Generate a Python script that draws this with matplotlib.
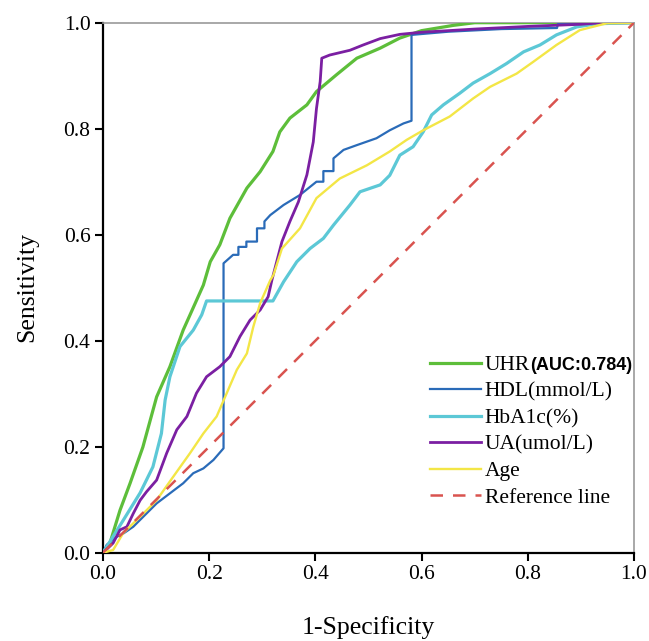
import matplotlib
matplotlib.use("Agg")
import matplotlib.pyplot as plt

# ---- data ----
uhr_x = [0, 0.013, 0.032, 0.051, 0.075, 0.101, 0.126, 0.151, 0.164, 0.189, 0.202, 0.220, 0.239, 0.271,
         0.296, 0.320, 0.333, 0.352, 0.384, 0.402, 0.440, 0.478, 0.522, 0.559, 0.60, 0.66, 0.70, 1.0]
uhr_y = [0, 0.018, 0.080, 0.131, 0.199, 0.294, 0.351, 0.420, 0.449, 0.505, 0.549, 0.581, 0.631, 0.688,
         0.719, 0.757, 0.794, 0.820, 0.845, 0.870, 0.902, 0.933, 0.952, 0.971, 0.985, 0.995, 1.0, 1.0]

hdl_x = [0, 0.007, 0.026, 0.038, 0.057, 0.076, 0.101, 0.126, 0.151, 0.170, 0.189, 0.208, 0.227, 0.227,
         0.245, 0.255, 0.255, 0.270, 0.270, 0.283, 0.290, 0.290, 0.304, 0.304, 0.315, 0.340, 0.371, 0.402,
         0.415, 0.415, 0.434, 0.434, 0.453, 0.478, 0.515, 0.540, 0.566, 0.581, 0.581, 0.65, 0.75, 0.855,
         0.857, 0.95, 1.0]
hdl_y = [0, 0.015, 0.030, 0.036, 0.049, 0.068, 0.093, 0.112, 0.131, 0.150, 0.159, 0.175, 0.197, 0.546,
         0.562, 0.562, 0.577, 0.577, 0.587, 0.587, 0.587, 0.612, 0.612, 0.625, 0.637, 0.656, 0.675, 0.700,
         0.700, 0.720, 0.720, 0.744, 0.760, 0.769, 0.782, 0.797, 0.810, 0.815, 0.977, 0.983, 0.988, 0.990,
         0.998, 1.0, 1.0]

hba_x = [0, 0.038, 0.070, 0.094, 0.110, 0.117, 0.126, 0.145, 0.170, 0.186, 0.195, 0.320, 0.340, 0.365,
         0.390, 0.415, 0.434, 0.465, 0.484, 0.522, 0.540, 0.559, 0.584, 0.603, 0.619, 0.641, 0.672, 0.697,
         0.729, 0.760, 0.792, 0.823, 0.854, 0.892, 0.930, 1.0]
hba_y = [0, 0.061, 0.113, 0.162, 0.225, 0.288, 0.332, 0.389, 0.420, 0.449, 0.475, 0.475, 0.511, 0.549,
         0.574, 0.593, 0.618, 0.656, 0.681, 0.694, 0.712, 0.750, 0.766, 0.794, 0.826, 0.845, 0.867, 0.886,
         0.904, 0.923, 0.945, 0.958, 0.977, 0.992, 0.998, 1.0]

ua_x = [0, 0.019, 0.032, 0.045, 0.057, 0.070, 0.082, 0.101, 0.120, 0.139, 0.158, 0.176, 0.195, 0.220,
        0.239, 0.258, 0.277, 0.296, 0.311, 0.318, 0.337, 0.352, 0.368, 0.384, 0.396, 0.402, 0.409, 0.412,
        0.427, 0.465, 0.490, 0.522, 0.559, 0.60, 0.70, 0.80, 0.90, 0.94, 1.0]
ua_y = [0, 0.018, 0.043, 0.049, 0.074, 0.099, 0.115, 0.137, 0.188, 0.232, 0.257, 0.301, 0.332, 0.351,
        0.370, 0.408, 0.439, 0.458, 0.483, 0.514, 0.587, 0.625, 0.662, 0.713, 0.775, 0.838, 0.889, 0.933,
        0.939, 0.948, 0.958, 0.970, 0.978, 0.982, 0.988, 0.993, 0.997, 1.0, 1.0]

age_x = [0, 0.019, 0.038, 0.070, 0.101, 0.132, 0.164, 0.189, 0.214, 0.233, 0.252, 0.271, 0.283, 0.296,
         0.315, 0.321, 0.337, 0.371, 0.402, 0.446, 0.497, 0.540, 0.572, 0.603, 0.653, 0.697, 0.729, 0.779,
         0.810, 0.854, 0.898, 0.949, 1.0]
age_y = [0, 0.005, 0.037, 0.068, 0.099, 0.143, 0.188, 0.225, 0.257, 0.301, 0.345, 0.376, 0.426, 0.471,
         0.514, 0.524, 0.574, 0.612, 0.669, 0.706, 0.731, 0.757, 0.779, 0.797, 0.823, 0.857, 0.879, 0.904,
         0.926, 0.958, 0.986, 0.999, 1.0]

ref_x = [0, 1]
ref_y = [0, 1]

labels = ["UHR", "HDL(mmol/L)", "HbA1c(%)", "UA(umol/L)", "Age", "Reference line"]
auc_text = "(AUC:0.784)"
ticks = [0.0, 0.2, 0.4, 0.6, 0.8, 1.0]
tick_labels = ["0.0", "0.2", "0.4", "0.6", "0.8", "1.0"]

# ---- figure ----
W, H = 649, 641
fig = plt.figure(figsize=(W / 100, H / 100), dpi=100)
ax = fig.add_axes([103 / W, 1 - 552.7 / H, (634 - 103) / W, (552.7 - 22.7) / H])

serif = "Liberation Serif"

ax.plot(uhr_x, uhr_y, color="#5DBE3A", lw=2.3, label=labels[0], zorder=3)
ax.plot(hdl_x, hdl_y, color="#2A6BB8", lw=1.6, label=labels[1], zorder=3)
ax.plot(hba_x, hba_y, color="#5CC8D6", lw=2.3, label=labels[2], zorder=3)
ax.plot(ua_x, ua_y, color="#7B1FA2", lw=2.0, label=labels[3], zorder=3)
ax.plot(age_x, age_y, color="#F3E646", lw=1.7, label=labels[4], zorder=3)
ax.plot(ref_x, ref_y, color="#D9534F", lw=1.8, dashes=(5, 4), label=labels[5], zorder=4)

ax.set_xlim(0, 1)
ax.set_ylim(0, 1)
ax.set_xticks(ticks)
ax.set_yticks(ticks)
ax.set_xticklabels(tick_labels, fontfamily=serif, fontsize=15.5)
ax.set_yticklabels(tick_labels, fontfamily=serif, fontsize=15.5)
ax.tick_params(axis="both", direction="out", length=6, width=1.5, color="black", pad=3)

for s in ["left", "bottom"]:
    ax.spines[s].set_color("black")
    ax.spines[s].set_linewidth(1.6)
for s in ["top", "right"]:
    ax.spines[s].set_color("#999999")
    ax.spines[s].set_linewidth(1.2)

fig.text(368 / W, 1 - 628 / H, "1-Specificity", fontfamily=serif, fontsize=18.5,
         ha="center", va="center")
fig.text(27 / W, 1 - 287 / H, "Sensitivity", fontfamily=serif, fontsize=18.5,
         ha="center", va="center", rotation=90)

leg = ax.legend(loc="upper left", bbox_to_anchor=(430 / W, 1 - 355 / H),
                bbox_transform=fig.transFigure, frameon=False, borderpad=0, borderaxespad=0,
                handlelength=2.35, handletextpad=0.2, labelspacing=0.3,
                prop={"family": serif, "size": 15.5})

fig.canvas.draw()
t0 = leg.get_texts()[0]
bb = t0.get_window_extent()
bx, by = t0.get_transform().transform(t0.get_position())
fig.text(bb.x1, by, auc_text, transform=None, fontfamily="Liberation Sans",
         fontweight="bold", fontsize=13, ha="left", va="baseline")

fig.savefig("out.png", dpi=100)
